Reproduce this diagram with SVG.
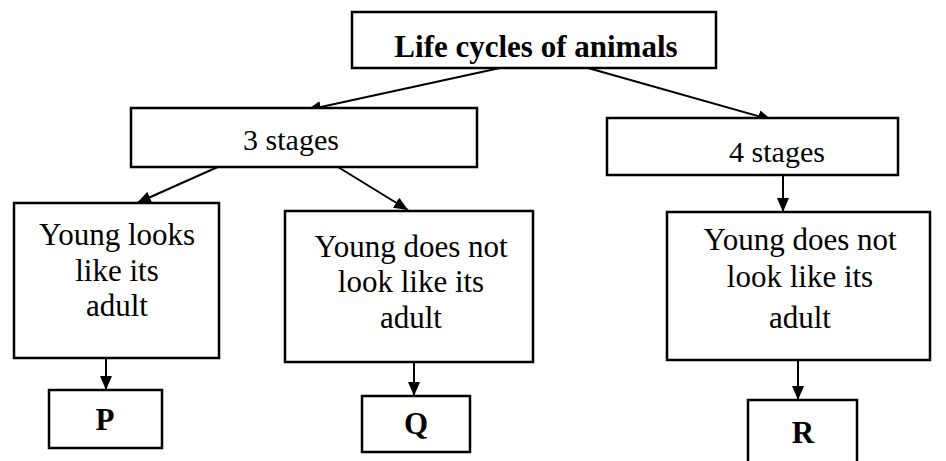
<svg xmlns="http://www.w3.org/2000/svg" width="946" height="461" viewBox="0 0 946 461">
<style>
.box{fill:#fff;stroke:#000;stroke-width:2.5}
.t{font-family:"Liberation Serif",Tinos,"Times New Roman","DejaVu Serif",serif;font-size:31px;fill:#000;text-anchor:middle}
.b{font-weight:bold}
.c{stroke:#000;stroke-width:2;fill:none;marker-end:url(#ah)}
</style>
<defs>
<marker id="ah" viewBox="0 0 14 12" refX="14" refY="6" markerWidth="14" markerHeight="12" markerUnits="userSpaceOnUse" orient="auto">
<path d="M0,0 L14,6 L0,12 Z" fill="#000"/>
</marker>
</defs>
<rect width="946" height="461" fill="#fff"/>
<g id="connectors">
<line class="c" x1="500" y1="68" x2="307" y2="110"/>
<line class="c" x1="588" y1="68" x2="772" y2="120"/>
<line class="c" x1="220" y1="166" x2="137" y2="203"/>
<line class="c" x1="338" y1="167" x2="408" y2="210"/>
<line class="c" x1="783" y1="175" x2="783" y2="212"/>
<line class="c" x1="106" y1="358" x2="106" y2="390"/>
<line class="c" x1="414" y1="362" x2="414" y2="396"/>
<line class="c" x1="798" y1="360" x2="798" y2="400"/>
</g>
<g id="title">
<rect class="box" x="352" y="12" width="364" height="56"/>
<text class="t b" x="536" y="57" font-family="Liberation Serif, serif">Life cycles of animals</text>
</g>
<g id="stages3">
<rect class="box" x="131" y="108" width="346" height="59"/>
<text class="t" x="291" y="150" style="font-size:30px">3 stages</text>
</g>
<g id="stages4">
<rect class="box" x="607" y="118" width="291" height="57"/>
<text class="t" x="777" y="162" style="font-size:30px">4 stages</text>
</g>
<g id="young-looks">
<rect class="box" x="14" y="203" width="205" height="155"/>
<text class="t" x="117" y="245">Young looks</text>
<text class="t" x="117" y="281">like its</text>
<text class="t" x="117" y="316">adult</text>
</g>
<g id="young-not-3">
<rect class="box" x="285" y="211" width="248" height="151"/>
<text class="t" x="411" y="257">Young does not</text>
<text class="t" x="411" y="292">look like its</text>
<text class="t" x="411" y="328">adult</text>
</g>
<g id="young-not-4">
<rect class="box" x="667" y="212" width="263" height="148"/>
<text class="t" x="800" y="250">Young does not</text>
<text class="t" x="800" y="287">look like its</text>
<text class="t" x="800" y="328">adult</text>
</g>
<g id="P">
<rect class="box" x="49" y="390" width="113" height="58"/>
<text class="t b" x="105" y="430">P</text>
</g>
<g id="Q">
<rect class="box" x="362" y="396" width="108" height="56"/>
<text class="t b" x="416" y="434">Q</text>
</g>
<g id="R">
<rect class="box" x="748" y="400" width="109" height="70"/>
<text class="t b" x="803" y="443">R</text>
</g>
</svg>
